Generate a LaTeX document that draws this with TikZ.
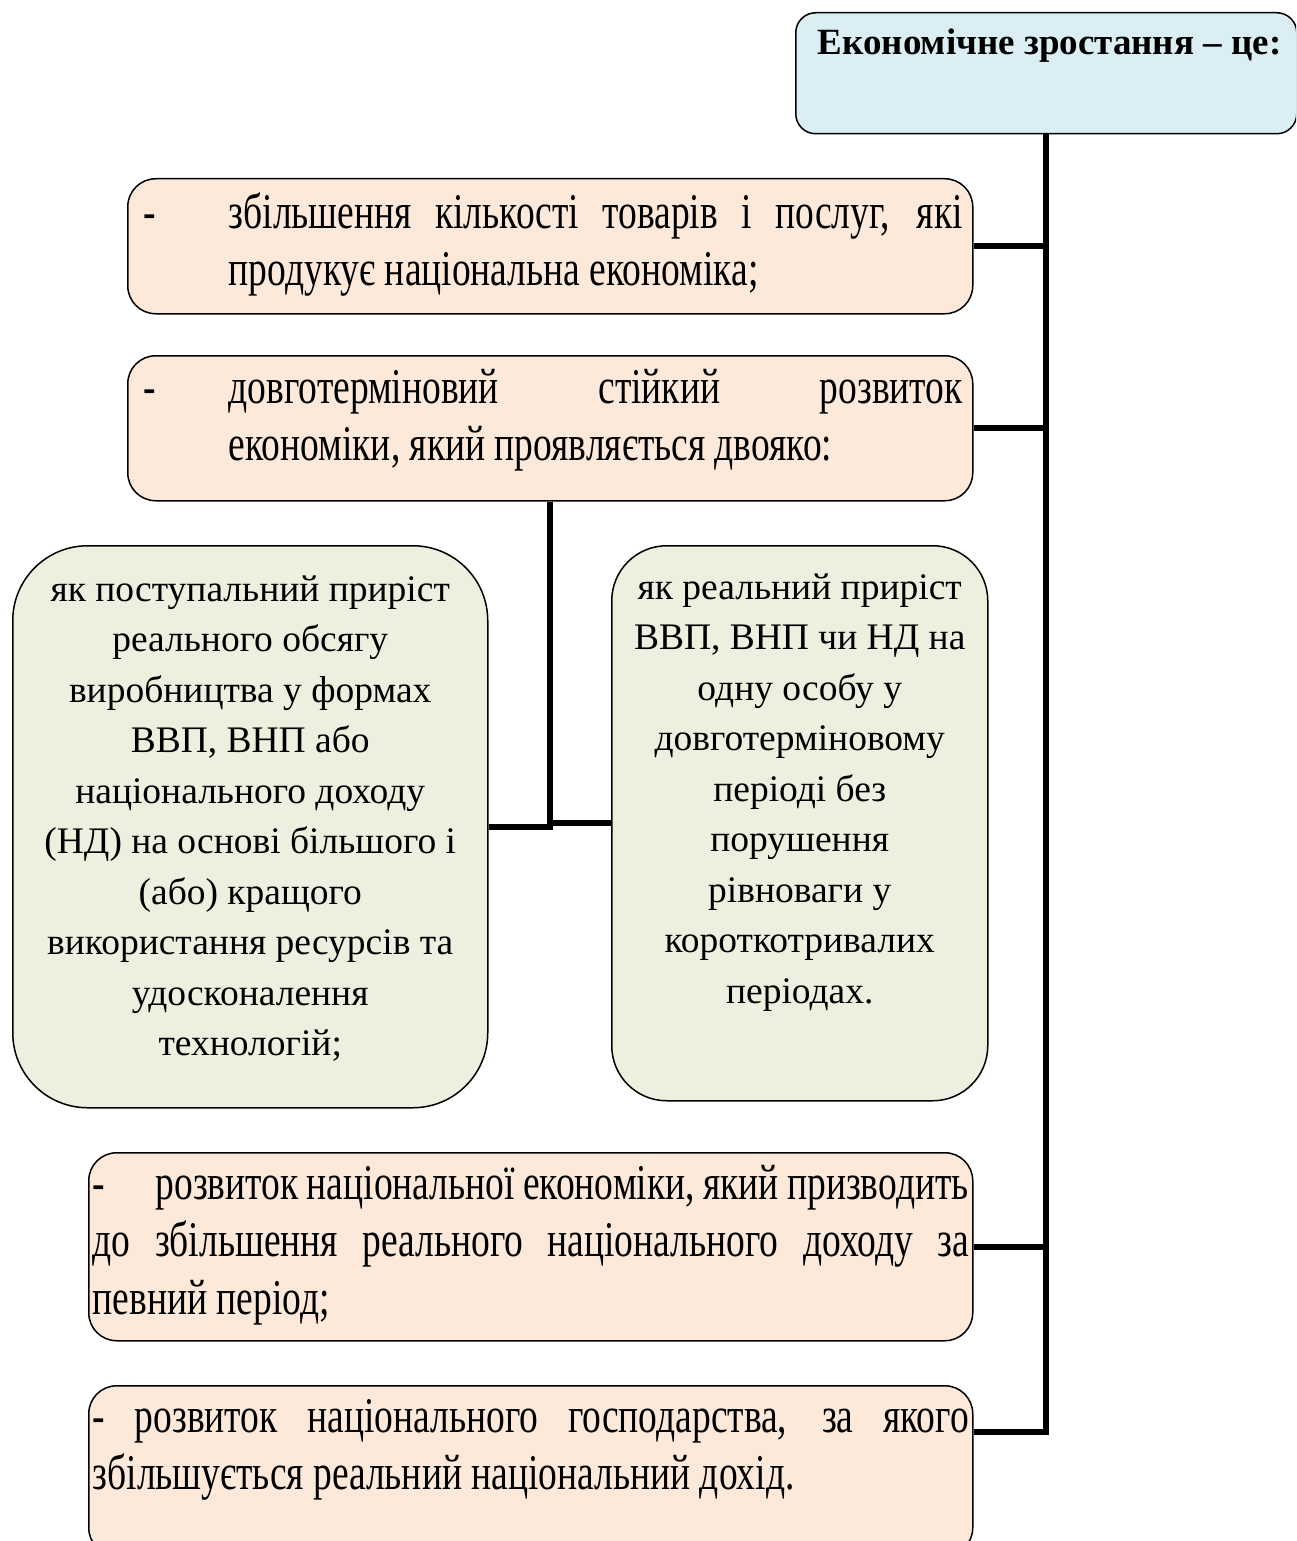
\documentclass[tikz,border=0pt]{standalone}
\usepackage{fontspec}
\setmainfont{Liberation Serif}
\newfontfamily\narrowFont{Liberation Serif}[FakeStretch=0.75]
\usepackage{tikz}
\definecolor{headBg}{HTML}{DAEEF3}
\definecolor{stepBg}{HTML}{FDE9D9}
\definecolor{formBg}{HTML}{EBF1DE}
\tolerance=9999
\hyphenpenalty=10000
\newcommand{\boxText}[3]{\parbox[c][#2][t]{#1}{#3}}

\begin{document}
\begin{tikzpicture}[x=1pt, y=-1pt,
    card/.style={draw=black, line width=1.5pt, anchor=north west, inner sep=0pt},
    headCard/.style={card, fill=headBg, rounded corners=20pt},
    stepCard/.style={card, fill=stepBg, rounded corners=28pt},
    formCard/.style={card, fill=formBg},
    link/.style={line width=6pt}]
    \useasboundingbox (0,0) rectangle (1296,1541);
    \clip (0,0) rectangle (1296,1541);

    \node[headCard, inner xsep=22pt, inner ysep=12pt] (head) at (795,12)
        {\boxText{457pt}{97pt}{\fontsize{37}{42}\selectfont\bfseries\noindent\strut\mbox{Економічне зростання – це:}}};

    \node[stepCard, inner xsep=10pt, inner ysep=10pt] (b1) at (127,178)
        {\boxText{825pt}{115pt}{\narrowFont\fontsize{50}{57}\selectfont\hangindent=91pt\hangafter=0\noindent\llap{-\hspace{73pt}}\strut збільшення кількості товарів і послуг, які\linebreak продукує національна економіка;}};
    \node[stepCard, inner xsep=10pt, inner ysep=8pt] (b2) at (127,355)
        {\boxText{825pt}{129pt}{\narrowFont\fontsize{50}{57}\selectfont\hangindent=91pt\hangafter=0\noindent\llap{-\hspace{73pt}}\strut довготерміновий стійкий розвиток\linebreak економіки, який проявляється двояко:}};

    \node[formCard, rounded corners=75pt, inner xsep=20pt, inner ysep=20pt] (g1) at (12,545)
        {\boxText{435pt}{522pt}{\centering\fontsize{37.5}{50.5}\selectfont\strut як поступальний приріст\\ реального обсягу\\ виробництва у формах\\ ВВП, ВНП або\\ національного доходу\\ (НД) на основі більшого і\\ (або) кращого\\ використання ресурсів та\\ удосконалення\\ технологій;}};
    \node[formCard, rounded corners=55pt, inner xsep=14pt, inner ysep=18pt] (g2) at (611,545)
        {\boxText{348pt}{519pt}{\centering\fontsize{37.5}{50.5}\selectfont\strut як реальний приріст\\ ВВП, ВНП чи НД на\\ одну особу у\\ довготерміновому\\ періоді без\\ порушення\\ рівноваги у\\ короткотривалих\\ періодах.}};

    \node[stepCard, inner xsep=4pt, inner ysep=6pt] (b3) at (88,1152)
        {\boxText{876pt}{176pt}{\narrowFont\fontsize{50}{57.5}\selectfont\noindent\strut -\hspace{42pt} розвиток національної економіки, який призводить\linebreak до збільшення реального національного доходу за\linebreak певний період;}};
    \node[stepCard, inner xsep=4pt, inner ysep=6pt] (b4) at (88,1385)
        {\boxText{876pt}{158pt}{\narrowFont\fontsize{50}{57.5}\selectfont\noindent\strut - розвиток національного господарства, за якого\linebreak збільшується реальний національний дохід.}};

    \coordinate (b4Link) at ([yshift=-47pt]b4.north east);
    \draw[link] (head.south) |- (b4Link);
    \foreach \b in {b1, b2, b3}
        \draw[link] (\b.east) -- (\b.east -| head.south);
    \draw[link] (b2.south) |- (g1.east);
    \draw[link] (b2.south |- g2.west) -- (g2.west);
\end{tikzpicture}
\end{document}
